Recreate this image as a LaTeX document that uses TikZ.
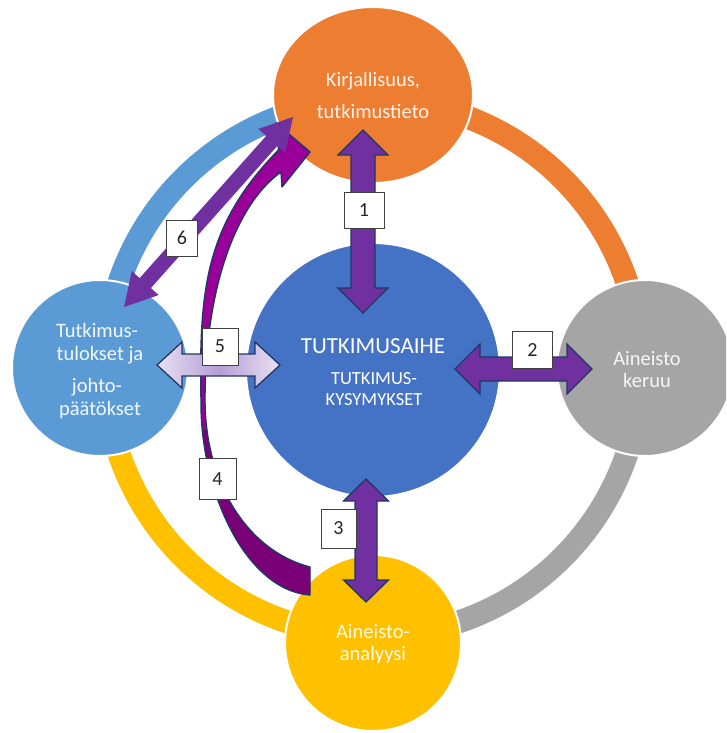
\documentclass[tikz,border=0pt]{standalone}
\usepackage{fontspec}
\setmainfont{Carlito}
\usetikzlibrary{calc,shapes.geometric}
\definecolor{cOrange}{HTML}{ED7D31}
\definecolor{cBlue}{HTML}{4472C4}
\definecolor{cGrey}{HTML}{A5A5A5}
\definecolor{cYellow}{HTML}{FFC000}
\definecolor{cLight}{HTML}{5B9BD5}
\definecolor{cPurple}{HTML}{7030A0}
\definecolor{cNavy}{HTML}{1F3864}
\definecolor{cMag}{HTML}{9A0099}
\definecolor{cMagDark}{HTML}{7A0078}
\definecolor{cLav}{HTML}{E8E0F2}
\definecolor{cLavMid}{HTML}{B49ED6}
% #1 style, #2 start, #3 end, #4 shaft half width, #5 head half width, #6 head length
\newcommand\blockarrow[6][]{%
  \coordinate (ba-s) at ($(#2)!#6!(#3)$);
  \coordinate (ba-e) at ($(#3)!#6!(#2)$);
  \path[#1] (#2) -- ($(ba-s)!#5!90:(#3)$) -- ($(ba-s)!#4!90:(#3)$)
     -- ($(ba-e)!#4!-90:(#2)$) -- ($(ba-e)!#5!-90:(#2)$) -- (#3)
     -- ($(ba-e)!#5!90:(#2)$) -- ($(ba-e)!#4!90:(#2)$)
     -- ($(ba-s)!#4!-90:(#3)$) -- ($(ba-s)!#5!-90:(#3)$) -- cycle;}
\def\arrowfourpath{(310,595) .. controls (245,590) and (200,490) .. (201,400) .. controls (199,290) and (205,225) .. (278.5,150) -- (276,123) -- (310,152) -- (282,187) -- (281,172) .. controls (235,205) and (205,290) .. (205,400) .. controls (205,480) and (245,550) .. (310,567) -- cycle}
\begin{document}
\begin{tikzpicture}[x=1pt,y=-1pt,
  ring/.style={line width=23pt},
  bubble/.style={circle, minimum size=176pt, draw=white, line width=2pt, inner sep=0},
  ctext/.style={anchor=base, inner sep=0, text=white, font=\fontsize{20.5}{24}\selectfont},
  arr/.style={fill=cPurple, draw=cNavy, line width=1.3pt, line join=miter},
  arrlav/.style={draw=cNavy, line width=1.3pt, left color=cLav, right color=cLav, middle color=cLavMid},
  numbox/.style={draw=black!75, fill=white, line width=0.9pt, inner sep=0, text=black!85, font=\fontsize{20}{20}\selectfont}]
\useasboundingbox (0,0) rectangle (726,733);
\clip (0,0) rectangle (726,733);
% ring
\draw[ring, cOrange] plot[domain=-90:0, samples=60] ({373+268*cos(\x)},{368+268*sin(\x)});
\draw[ring, cGrey] plot[domain=0:90, samples=60] ({373+268*cos(\x)},{368+268*sin(\x)});
\draw[ring, cYellow] plot[domain=90:180, samples=60] ({373+268*cos(\x)},{368+268*sin(\x)});
\draw[ring, cLight] plot[domain=180:270, samples=60] ({373+268*cos(\x)},{368+268*sin(\x)});
% circles
\node[ellipse, minimum width=200pt, minimum height=176pt, fill=cOrange, draw=white, line width=2pt, inner sep=0] (lit) at (373,95) {};
\node[circle, minimum size=254pt, fill=cBlue, draw=white, line width=2pt, inner sep=0] (topic) at (373,370) {};
\node[bubble, fill=cGrey] (coll) at (645,368) {};
\node[bubble, fill=cLight] (res) at (100,368) {};
\node[bubble, fill=cYellow] (ana) at (373,643) {};
% texts
\node[ctext, text=white!90!cOrange] (lit1) at (373,87) {Kirjallisuus,};
\node[ctext, text=white!90!cOrange] (lit2) at (373,118) {tutkimustieto};
\node[ctext, font=\fontsize{23}{26}\selectfont] (top1) at (373,353) {TUTKIMUSAIHE};
\node[ctext, font=\fontsize{18.5}{20}\selectfont] (top2) at (374,384) {TUTKIMUS-};
\node[ctext, font=\fontsize{18.5}{20}\selectfont] (top3) at (374,405) {KYSYMYKSET};
\node[ctext, text=white!90!cGrey] (coll1) at (647,365) {Aineisto};
\node[ctext, text=white!90!cGrey] (coll2) at (647,387) {keruu};
\node[ctext, text=white!92!cLight] (res1) at (97,337) {Tutkimus-};
\node[ctext, text=white!92!cLight] (res2) at (100,360) {tulokset ja};
\node[ctext, text=white!92!cLight] (res3) at (97,392) {johto-};
\node[ctext, text=white!92!cLight] (res4) at (100,415) {päätökset};
\node[ctext, text=white!92!cYellow] (ana1) at (373,638) {Aineisto-};
\node[ctext, text=white!92!cYellow] (ana2) at (373,660) {analyysi};
% arrow 4 (curved)
\fill[cMag] \arrowfourpath;
\begin{scope}
  \clip (0,430) rectangle (726,733);
  \fill[cMagDark] \arrowfourpath;
\end{scope}
\draw[cNavy, line width=1.4pt, line join=round] \arrowfourpath;
% arrow 6
\coordinate (a6a) at (124,307);
\coordinate (a6b) at (293,117);
\blockarrow[fill=cPurple]{a6a}{a6b}{7.5pt}{18pt}{32pt}
% arrows 1,2,3,5
\coordinate (a1t) at (363,130);
\coordinate (a1b) at (363,313);
\blockarrow[arr]{a1t}{a1b}{12pt}{25pt}{25pt}
\coordinate (a2l) at (455,369);
\coordinate (a2r) at (592,369);
\blockarrow[arr]{a2l}{a2r}{12pt}{25pt}{25pt}
\coordinate (a3t) at (366,479);
\coordinate (a3b) at (366,602);
\blockarrow[arr]{a3t}{a3b}{11pt}{22.5pt}{22pt}
\coordinate (a5l) at (157,365);
\coordinate (a5r) at (280,365);
\blockarrow[arrlav]{a5l}{a5r}{11pt}{23pt}{25pt}
% number boxes
\node[numbox, minimum width=40pt, minimum height=36pt] (n1) at (364,210) {1};
\node[numbox, minimum width=40pt, minimum height=37pt] (n2) at (532.5,350) {2};
\node[numbox, minimum width=35pt, minimum height=39pt] (n3) at (338.5,528.5) {3};
\node[numbox, minimum width=37pt, minimum height=41pt] (n4) at (217.5,479) {4};
\node[numbox, minimum width=36pt, minimum height=37pt] (n5) at (220,346.5) {5};
\node[numbox, minimum width=31pt, minimum height=36pt] (n6) at (182,238) {6};
\end{tikzpicture}
\end{document}
